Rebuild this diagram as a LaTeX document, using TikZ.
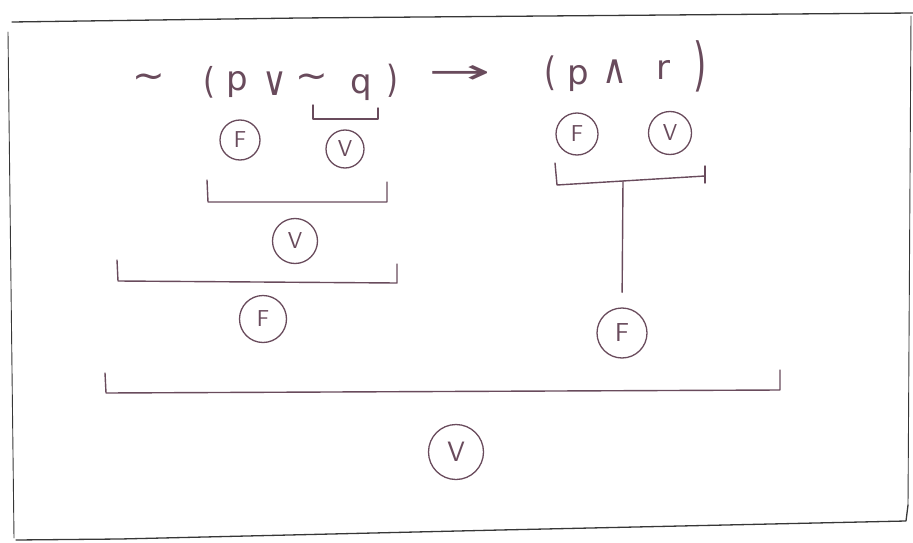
\documentclass[tikz,border=0pt]{standalone}
\usepackage{fontspec}
\usepackage{graphicx}
\newfontfamily\formfont{DejaVu Sans}
\begin{document}
\begin{tikzpicture}[x=1pt,y=-1pt,
  ink/.style={draw=inkc, line width=1.4pt, line cap=round, line join=round},
  sym/.style={text=inkc, inner sep=0pt, font=\formfont\fontsize{34}{34}\selectfont},
  val/.style={circle, draw=inkc, line width=1.3pt, text=inkc, inner sep=0pt,
    font=\sffamily\fontsize{23}{23}\selectfont},
  frame/.style={draw=framec, line width=1.3pt, line cap=round, line join=round}]
\definecolor{inkc}{RGB}{105,75,92}
\definecolor{framec}{RGB}{55,55,55}
\useasboundingbox (0,0) rectangle (913,543);
% frame
\draw[frame] (12,22) -- (300,18) -- (913,13);
\draw[frame, line width=0.9pt] (8,32) -- (14,538);
\draw[frame] (16,540) -- (120,539) -- (500,530) -- (906,521) -- (908,505);
\draw[frame, line width=0.9pt] (911,16) -- (908,505);
% formula
\node[sym] (t1) at (149,81) {\scalebox{1.15}[1.1]{∼}};
\node[sym] (lp1) at (209,82) {\scalebox{0.9}[1.05]{(}};
\node[sym] (p1) at (237,85) {p};
\node[sym] (or) at (275,84) {\scalebox{1}[1.2]{∨}};
\node[sym] (t2) at (312,81) {\scalebox{1.15}[1.1]{∼}};
\node[sym] (q) at (361,88) {q};
\node[sym] (rp1) at (392,81) {\scalebox{0.9}[1.1]{)}};
\node[sym] (arr) at (460,75) {\scalebox{2.2}[1]{→}};
\node[sym] (lp2) at (550,73) {\scalebox{0.9}[1.15]{(}};
\node[sym] (p2) at (578,79) {p};
\node[sym] (and) at (615,72) {\scalebox{1}[1.2]{∧}};
\node[sym] (r) at (663,70) {r};
\node[sym] (rp2) at (700,66) {\scalebox{1}[1.7]{)}};
% values
\node[val, minimum size=40pt] (F1) at (240,140) {F};
\node[val, minimum size=38pt] (V1) at (345,149) {V};
\node[val, minimum size=42pt] (F2) at (577,134) {F};
\node[val, minimum size=43pt] (V2) at (670,133) {V};
\node[val, minimum size=45pt] (V3) at (295,241) {V};
\node[val, minimum size=47pt] (F4) at (263,319) {F};
\node[val, minimum size=50pt, font=\sffamily\fontsize{26}{26}\selectfont] (F5) at (622,333) {F};
\node[val, minimum size=55pt, font=\sffamily\fontsize{28}{28}\selectfont] (V6) at (456,452) {V};
% brackets
\draw[ink] (313,105) -- (313,119) -- (378,119) -- (378,108);
\draw[ink] (207,180) -- (208,202) -- (387,202) -- (387,182);
\draw[ink] (555,163) -- (557,185) -- (705,176);
\draw[ink] (705,166) -- (705,183);
\coordinate (s3) at (623,181);
\draw[ink, shorten >=15pt] (s3) -- (F5.north);
\draw[ink] (117,260) -- (118,281) -- (397,283) -- (397,264);
\draw[ink] (105,373) -- (106,393) -- (780,390) -- (780,370);
\end{tikzpicture}
\end{document}
